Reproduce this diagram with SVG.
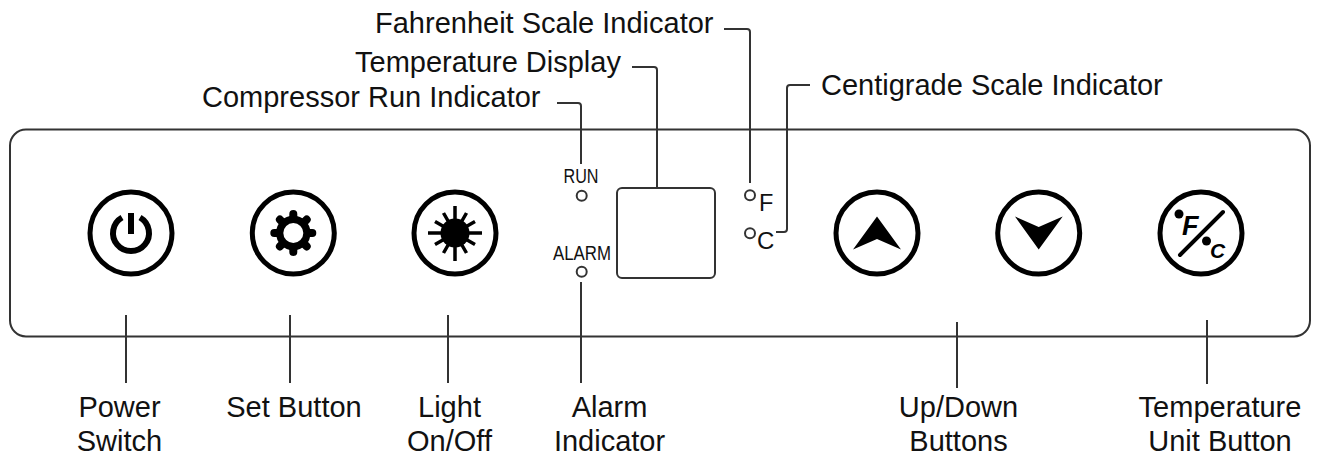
<svg xmlns="http://www.w3.org/2000/svg" width="1322" height="455" viewBox="0 0 1322 455">
<style>
text{font-family:"Liberation Sans",Arial,sans-serif;fill:#111}
.l{font-size:29px}
.m{text-anchor:middle}
.c{fill:none;stroke:#333;stroke-width:2;stroke-linejoin:round}
.ring{fill:#fff;stroke:#000;stroke-width:5}
.led{fill:#fff;stroke:#333;stroke-width:2}
.s{fill:none;stroke:#000}
</style>
<rect width="1322" height="455" fill="#fff"/>
<g id="panel"><rect x="10" y="129.500" width="1300" height="207" rx="16" fill="#fff" stroke="#333" stroke-width="2"/></g>
<g id="connectors">
<path class="c" d="M557 103H578Q581 103 581 106V164"/>
<path class="c" d="M632 67H654Q657 67 657 70V188"/>
<path class="c" d="M724 29H747Q750 29 750 32V183"/>
<path class="c" d="M810 85H790Q787 85 787 88V229Q787 232 784 232H776"/>
<path class="c" d="M126 315V383"/>
<path class="c" d="M290 315V383"/>
<path class="c" d="M448 315V383"/>
<path class="c" d="M581 282V383"/>
<path class="c" d="M957 322V388"/>
<path class="c" d="M1207 320V384"/>
</g>
<g id="power"><circle class="ring" cx="131" cy="233" r="41"/>
<path class="s" stroke-width="6" d="M122 217.500A18 18 0 1 0 140 217.500"/><path class="s" stroke-width="6" d="M131 213V234"/></g>
<g id="set"><circle class="ring" cx="293.300" cy="233" r="41"/>
<path class="s" stroke-width="8" stroke-linecap="round" d="M293.300 214V252M274.300 233H312.300M279.900 219.600L306.700 246.400M306.700 219.600L279.900 246.400"/>
<circle cx="293.300" cy="233" r="13.500" fill="none" stroke="#000" stroke-width="7.500"/>
<circle cx="293.300" cy="233" r="10" fill="#fff"/></g>
<g id="light"><circle class="ring" cx="455" cy="233" r="41"/>
<circle cx="455" cy="233" r="14.500" fill="#000"/>
<path class="s" stroke-width="3.500" d="M455 206V261M428 233H482M443.500 213L466.500 253M466.500 213L443.500 253M435 221.500L475 244.500M475 221.500L435 244.500"/></g>
<g id="run-led"><text x="581" y="183" text-anchor="middle" font-size="19.500" textLength="35" lengthAdjust="spacingAndGlyphs">RUN</text><circle class="led" cx="581.700" cy="195.700" r="5"/></g>
<g id="alarm-led"><text x="582" y="260" text-anchor="middle" font-size="19.500" textLength="58" lengthAdjust="spacingAndGlyphs">ALARM</text><circle class="led" cx="581.700" cy="271.700" r="5"/></g>
<g id="display"><rect x="617" y="188" width="98" height="90" rx="5" fill="#fff" stroke="#333" stroke-width="2"/></g>
<g id="f-led"><circle class="led" cx="750" cy="195.300" r="5"/><text x="759" y="210.700" font-size="23.500">F</text></g>
<g id="c-led"><circle class="led" cx="750" cy="233.300" r="5"/><text x="757" y="249" font-size="24">C</text></g>
<g id="up"><circle class="ring" cx="877" cy="233" r="41"/><path d="M877 216.500L901 249.500L877 239L853 249.500Z" fill="#000"/></g>
<g id="down"><circle class="ring" cx="1038.700" cy="233" r="41"/><path d="M1038.700 249.500L1015 216.500L1038.700 227L1062.700 216.500Z" fill="#000"/></g>
<g id="unit"><circle class="ring" cx="1201" cy="233" r="41"/>
<path class="s" stroke-width="4" stroke-linecap="round" d="M1180 255L1223 212"/>
<circle cx="1179" cy="214" r="4.500" fill="#000"/><circle cx="1206.500" cy="241" r="4.500" fill="#000"/>
<text x="1182" y="235" font-size="27" font-style="italic" font-weight="bold" style="fill:#000">F</text>
<text x="1210" y="258" font-size="21" font-style="italic" font-weight="bold" style="fill:#000">C</text></g>
<g id="labels">
<text class="l" x="375" y="33">Fahrenheit Scale Indicator</text>
<text class="l" x="355" y="72">Temperature Display</text>
<text class="l" x="202" y="107">Compressor Run Indicator</text>
<text class="l" x="821" y="95">Centigrade Scale Indicator</text>
<text class="l m" x="119.500" y="417">Power</text><text class="l m" x="119.500" y="451">Switch</text>
<text class="l m" x="294" y="417">Set Button</text>
<text class="l m" x="449.500" y="417">Light</text><text class="l m" x="449.500" y="451">On/Off</text>
<text class="l m" x="609.500" y="417">Alarm</text><text class="l m" x="609.500" y="451">Indicator</text>
<text class="l m" x="958.500" y="417">Up/Down</text><text class="l m" x="958.500" y="451">Buttons</text>
<text class="l m" x="1220" y="417">Temperature</text><text class="l m" x="1220" y="451">Unit Button</text>
</g>
</svg>
